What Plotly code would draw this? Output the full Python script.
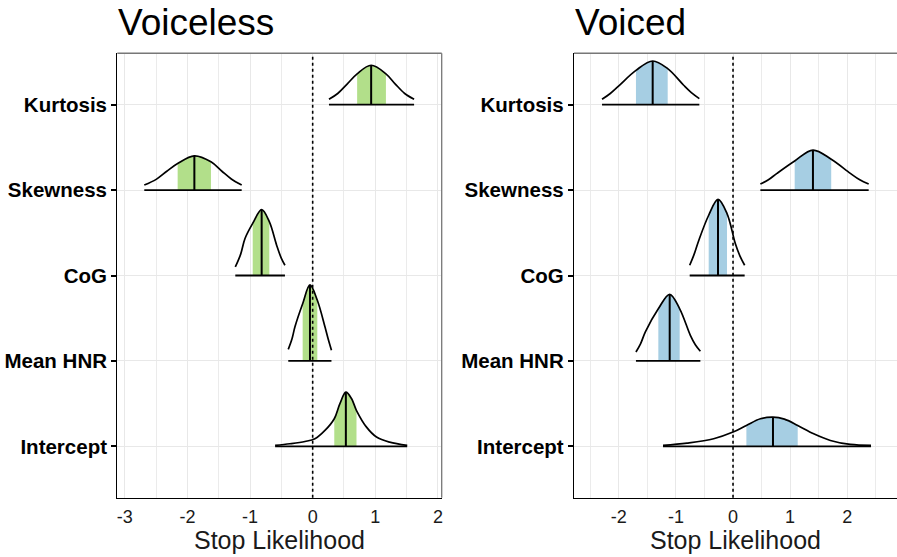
import plotly.graph_objects as go

# ---------------- data ----------------
categories = ["Intercept", "Mean HNR", "CoG", "Skewness", "Kurtosis"]  # bottom -> top
x_ticks = [-3, -2, -1, 0, 1, 2]

# Voiceless panel: outline points (x value, height in category units)
vl_kurtosis_x = [0.26, 0.40, 0.55, 0.71, 0.934, 1.17, 1.32, 1.47, 1.62]
vl_kurtosis_h = [0.062, 0.13, 0.24, 0.36, 0.46, 0.36, 0.24, 0.13, 0.062]
vl_skewness_x = [-2.69, -2.50, -2.33, -2.157, -1.89, -1.625, -1.45, -1.30, -1.134]
vl_skewness_h = [0.058, 0.125, 0.22, 0.31, 0.40, 0.33, 0.22, 0.13, 0.058]
vl_cog_x = [-1.236, -1.15, -1.081, -0.958, -0.815, -0.693, -0.576, -0.50, -0.443]
vl_cog_h = [0.10, 0.25, 0.433, 0.61, 0.77, 0.63, 0.355, 0.20, 0.12]
vl_hnr_x = [-0.39, -0.33, -0.283, -0.16, -0.043, 0.074, 0.196, 0.25, 0.30]
vl_hnr_h = [0.136, 0.26, 0.40, 0.67, 0.89, 0.71, 0.40, 0.25, 0.125]
vl_intercept_x = [-0.60, -0.363, -0.123, 0.036, 0.196, 0.345, 0.435, 0.53, 0.62, 0.70, 0.86, 1.02, 1.23, 1.51]
vl_intercept_h = [0.012, 0.031, 0.058, 0.09, 0.187, 0.324, 0.50, 0.635, 0.56, 0.42, 0.226, 0.11, 0.05, 0.012]
# 50% intervals and medians (Intercept, Mean HNR, CoG, Skewness, Kurtosis)
vl_lo = [0.345, -0.16, -0.958, -2.157, 0.71]
vl_med = [0.53, -0.043, -0.815, -1.89, 0.934]
vl_hi = [0.70, 0.074, -0.693, -1.625, 1.17]

# Voiced panel
vd_kurtosis_x = [-2.294, -2.15, -1.99, -1.70, -1.407, -1.144, -0.864, -0.73, -0.59]
vd_kurtosis_h = [0.062, 0.13, 0.226, 0.40, 0.51, 0.42, 0.226, 0.14, 0.07]
vd_skewness_x = [0.479, 0.62, 0.77, 1.08, 1.40, 1.72, 2.055, 2.22, 2.376]
vd_skewness_h = [0.07, 0.12, 0.195, 0.34, 0.468, 0.36, 0.195, 0.12, 0.07]
vd_cog_x = [-0.759, -0.68, -0.60, -0.426, -0.263, -0.105, 0.04, 0.12, 0.204]
vd_cog_h = [0.12, 0.25, 0.41, 0.705, 0.89, 0.725, 0.374, 0.23, 0.12]
vd_hnr_x = [-1.70, -1.62, -1.535, -1.308, -1.109, -0.934, -0.747, -0.66, -0.572]
vd_hnr_h = [0.105, 0.20, 0.34, 0.61, 0.78, 0.61, 0.30, 0.19, 0.113]
vd_intercept_x = [-1.226, -0.806, -0.339, 0.0, 0.234, 0.479, 0.70, 0.90, 1.133, 1.413, 1.705, 2.055, 2.417]
vd_intercept_h = [0.012, 0.039, 0.09, 0.168, 0.246, 0.324, 0.343, 0.32, 0.246, 0.148, 0.07, 0.023, 0.012]
vd_lo = [0.234, -1.308, -0.426, 1.08, -1.70]
vd_med = [0.70, -1.109, -0.263, 1.40, -1.407]
vd_hi = [1.133, -0.934, -0.105, 1.72, -1.144]

GREEN = "#B2DF8A"
BLUE = "#A6CEE3"
FONT = "Liberation Sans, Arial, Helvetica, sans-serif"

panels = [
    dict(xa="x", ya="y", fill=GREEN,
         curves=[(vl_intercept_x, vl_intercept_h), (vl_hnr_x, vl_hnr_h), (vl_cog_x, vl_cog_h),
                 (vl_skewness_x, vl_skewness_h), (vl_kurtosis_x, vl_kurtosis_h)],
         lo=vl_lo, med=vl_med, hi=vl_hi),
    dict(xa="x2", ya="y2", fill=BLUE,
         curves=[(vd_intercept_x, vd_intercept_h), (vd_hnr_x, vd_hnr_h), (vd_cog_x, vd_cog_h),
                 (vd_skewness_x, vd_skewness_h), (vd_kurtosis_x, vd_kurtosis_h)],
         lo=vd_lo, med=vd_med, hi=vd_hi),
]

fig = go.Figure()
for p in panels:
    for i, (xs, hs) in enumerate(p["curves"]):
        k = i + 1
        lo, md, hi = p["lo"][i], p["med"][i], p["hi"][i]
        sx = [x for x in xs if lo - 1e-9 <= x <= hi + 1e-9]
        sy = [k + h for x, h in zip(xs, hs) if lo - 1e-9 <= x <= hi + 1e-9]
        # fill reference baseline
        fig.add_trace(go.Scatter(x=[lo, hi], y=[k, k], mode="lines", xaxis=p["xa"], yaxis=p["ya"],
                                 line=dict(width=0, color="rgba(0,0,0,0)"), hoverinfo="skip", showlegend=False))
        fig.add_trace(go.Scatter(x=sx, y=sy, mode="lines", xaxis=p["xa"], yaxis=p["ya"],
                                 line=dict(width=0, shape="spline", color="rgba(0,0,0,0)"),
                                 fill="tonexty", fillcolor=p["fill"], hoverinfo="skip", showlegend=False))
        # outline
        fig.add_trace(go.Scatter(x=xs, y=[k + h for h in hs], mode="lines", xaxis=p["xa"], yaxis=p["ya"],
                                 line=dict(width=1.7, shape="spline", color="black"),
                                 hoverinfo="skip", showlegend=False))
        # median line
        hm = hs[xs.index(md)]
        fig.add_trace(go.Scatter(x=[md, md], y=[k, k + hm], mode="lines", xaxis=p["xa"], yaxis=p["ya"],
                                 line=dict(width=2, color="black"), hoverinfo="skip", showlegend=False))
        # baseline
        fig.add_trace(go.Scatter(x=[xs[0], xs[-1]], y=[k, k], mode="lines", xaxis=p["xa"], yaxis=p["ya"],
                                 line=dict(width=1.8, color="black"), hoverinfo="skip", showlegend=False))

W, H = 897, 557
left_dom = [117.3 / W, 441.7 / W]
right_dom = [574 / W, 1.0]
y_dom = [(H - 497.7) / H, (H - 53.3) / H]

xcommon = dict(tickmode="array", tickvals=x_ticks, ticktext=[str(v) for v in x_ticks],
               showgrid=True, gridcolor="#E8E8E8", gridwidth=1.3,
               minor=dict(dtick=0.5, tick0=0, showgrid=True, gridcolor="#EBEBEB", gridwidth=1.2),
               zeroline=False, showline=True, linecolor="black", linewidth=1.4,
               ticks="", ticklabelstandoff=2,
               tickfont=dict(family=FONT, size=18, color="#1a1a1a"), fixedrange=True)
ycommon = dict(tickmode="array", tickvals=[1, 2, 3, 4, 5], ticktext=categories, range=[0.4, 5.6],
               showgrid=True, gridcolor="#E8E8E8", gridwidth=1.3, zeroline=False,
               showline=True, linecolor="black", linewidth=1.4,
               ticks="outside", ticklen=5, tickwidth=2, tickcolor="black",
               tickfont=dict(family=FONT, size=20.5, color="black", weight="bold"), fixedrange=True)

fig.update_layout(
    width=W, height=H, margin=dict(l=0, r=0, t=0, b=0),
    paper_bgcolor="white", plot_bgcolor="white", showlegend=False,
    xaxis=dict(xcommon, domain=left_dom, range=[-3.121, 2.061], anchor="y"),
    yaxis=dict(ycommon, domain=y_dom, anchor="x"),
    xaxis2=dict(xcommon, domain=right_dom, range=[-2.785, 2.872], anchor="y2"),
    yaxis2=dict(ycommon, domain=y_dom, anchor="x2"),
)

shapes = []
for xr, yr, dom in [("x", "y", left_dom), ("x2", "y2", right_dom)]:
    shapes.append(dict(type="line", xref=xr, yref=yr + " domain", x0=0, x1=0, y0=0, y1=1,
                       line=dict(color="black", width=1.6, dash="dot"), layer="above"))
    shapes.append(dict(type="line", xref="paper", yref="paper", x0=dom[0], x1=dom[1], y0=y_dom[1], y1=y_dom[1],
                       line=dict(color="#777777", width=1.5)))
shapes.append(dict(type="line", xref="paper", yref="paper", x0=left_dom[1], x1=left_dom[1], y0=y_dom[0], y1=y_dom[1],
                   line=dict(color="#777777", width=1.3)))
fig.update_layout(shapes=shapes)

ann = []
for title, dom in [("Voiceless", left_dom), ("Voiced", right_dom)]:
    ann.append(dict(text=title, xref="paper", yref="paper", x=dom[0] - 1 / W, y=1 - 23 / H, xanchor="left",
                    yanchor="middle", showarrow=False, font=dict(family=FONT, size=37, color="black")))
    ann.append(dict(text="Stop Likelihood", xref="paper", yref="paper", x=(dom[0] + min(dom[1], 1.0)) / 2,
                    y=1 - 540 / H, xanchor="center", yanchor="middle", showarrow=False,
                    font=dict(family=FONT, size=25, color="#1a1a1a")))
fig.update_layout(annotations=ann)

fig.write_html("out.html")
